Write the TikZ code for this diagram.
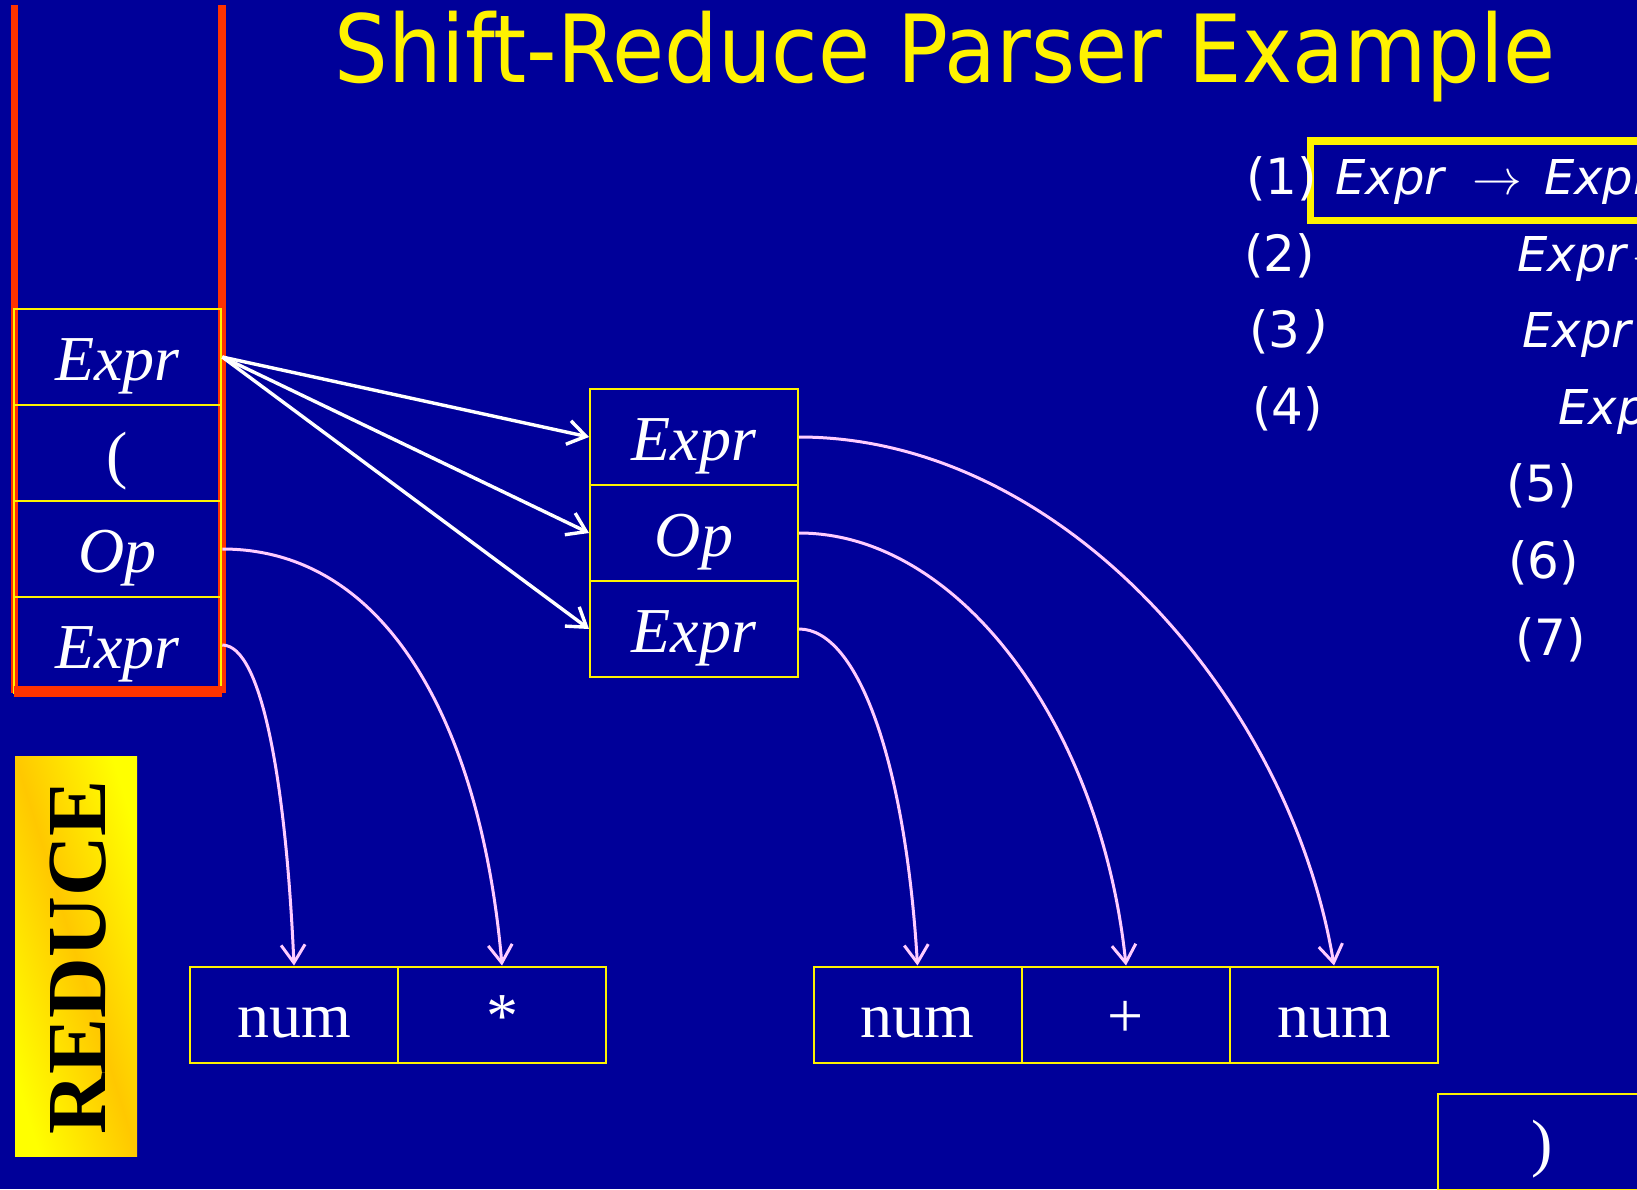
\documentclass[tikz,border=0pt]{standalone}
\usepackage{fontspec}
\usepackage{graphicx}
\setmainfont{Liberation Serif}
\newfontfamily\dvsans{DejaVu Sans}
\usetikzlibrary{arrows.meta}
\definecolor{bg}{RGB}{0,0,153}
\definecolor{stackred}{RGB}{255,51,0}
\definecolor{pinkc}{RGB}{255,204,255}
\definecolor{goldc}{RGB}{255,200,0}
\tikzset{
  cell/.style={draw=yellow, line width=1pt, minimum width=104pt, minimum height=48pt,
    inner sep=0pt, text=white, text height=23pt, text depth=0pt,
    font=\fontsize{32}{36}\selectfont},
  stackcell/.style={cell, line width=1.3pt, minimum width=103.5pt},
  whitearrow/.style={draw=white, line width=1.7pt,
    -{Straight Barb[length=9pt,width=12pt,line width=1.7pt]}},
  pinkarrow/.style={draw=pinkc, line width=1.5pt,
    -{Straight Barb[length=9pt,width=12pt,line width=1.5pt]}},
  gram/.style={text=white, font=\dvsans\fontsize{25}{28}\selectfont, inner sep=0pt, anchor=base west},
  gramit/.style={gram, font=\dvsans\itshape\fontsize{24}{28}\selectfont},
}
\begin{document}
\begin{tikzpicture}[x=0.5pt,y=-0.5pt]
\useasboundingbox (0,0) rectangle (1637,1189);
\fill[bg] (0,0) rectangle (1637,1189);
\clip (0,0) rectangle (1637,1189);

% title
\node[anchor=base west, inner sep=0pt, text=yellow, font=\dvsans\fontsize{47}{50}\selectfont]
  (title) at (334,82) {\scalebox{0.9}[1]{Shift-Reduce Parser Example}};

% stack
\draw[stackred, line width=3.5pt] (14,5) -- (14,693);
\draw[stackred, line width=4pt] (222,5) -- (222,693);
\node[stackcell] (s1) at (117.5,357) {\itshape Expr};
\node[stackcell] (s2) at (117.5,453) {(};
\node[stackcell] (s3) at (117.5,549) {\itshape Op};
\node[stackcell] (s4) at (117.5,645) {\itshape Expr};
\fill[stackred] (14,686) rectangle (222,697);

% middle
\node[cell] (m1) at (694,437) {\itshape Expr};
\node[cell] (m2) at (694,533) {\itshape Op};
\node[cell] (m3) at (694,629) {\itshape Expr};

% bottom
\node[cell] (b1) at (294,1014.5) {num};
\node[cell] (b2) at (502,1014.5) {*};
\node[cell] (c1) at (917.5,1014.5) {num};
\node[cell] (c2) at (1126,1014.5) {+};
\node[cell] (c3) at (1334,1014.5) {num};
\node[cell] (d1) at (1542,1141.5) {)};

% white arrows
\draw[whitearrow] (s1.east) -- (m1.west);
\draw[whitearrow] (s1.east) -- (m2.west);
\draw[whitearrow] (s1.east) -- (m3.west);

% pink curves
\draw[pinkarrow] (s4.east) .. controls +(40,0) and +(-8,-180) .. (b1.north);
\draw[pinkarrow] (s3.east) .. controls +(170,0) and +(-20,-230) .. (b2.north);
\draw[pinkarrow] (m3.east) .. controls +(60,0) and +(-12,-200) .. (c1.north);
\draw[pinkarrow] (m2.east) .. controls +(160,0) and +(-25,-240) .. (c2.north);
\draw[pinkarrow] (m1.east) .. controls +(260,0) and +(-45,-270) .. (c3.north);

% REDUCE
\node[minimum width=61pt, minimum height=200pt, inner sep=0pt,
  top color=yellow, bottom color=yellow, middle color=goldc, shading angle=-73]
  (rbox) at (76,956) {};
\node[rotate=90, inner sep=0pt, font=\fontsize{42}{44}\selectfont\bfseries, text=black]
  (rtext) at (78.5,957.5) {REDUCE};

% grammar
\draw[yellow, line width=3.8pt] (1310.5,141) rectangle (1700,220.5);
\node[gram] (g1) at (1246,194) {(1)};
\node[gramit] (e1) at (1335,194) {Expr\hspace{14pt}\upshape$\rightarrow$\hspace{11pt}\itshape Expr};
\node[gram] (g2) at (1244,271) {(2)};
\node[gramit] (e2) at (1517,271) {Expr\hspace{3pt}\upshape$\rightarrow$};
\node[gram] (g3) at (1249,347) {(3\,{\itshape )}};
\node[gramit] (e3) at (1522,347) {Expr};
\node[gram] (g4) at (1252,424) {(4)};
\node[gramit] (e4) at (1558,424) {Expr};
\node[gram] (g5) at (1506,501) {(5)};
\node[gram] (g6) at (1508,578) {(6)};
\node[gram] (g7) at (1515,655) {(7)};
\end{tikzpicture}
\end{document}
